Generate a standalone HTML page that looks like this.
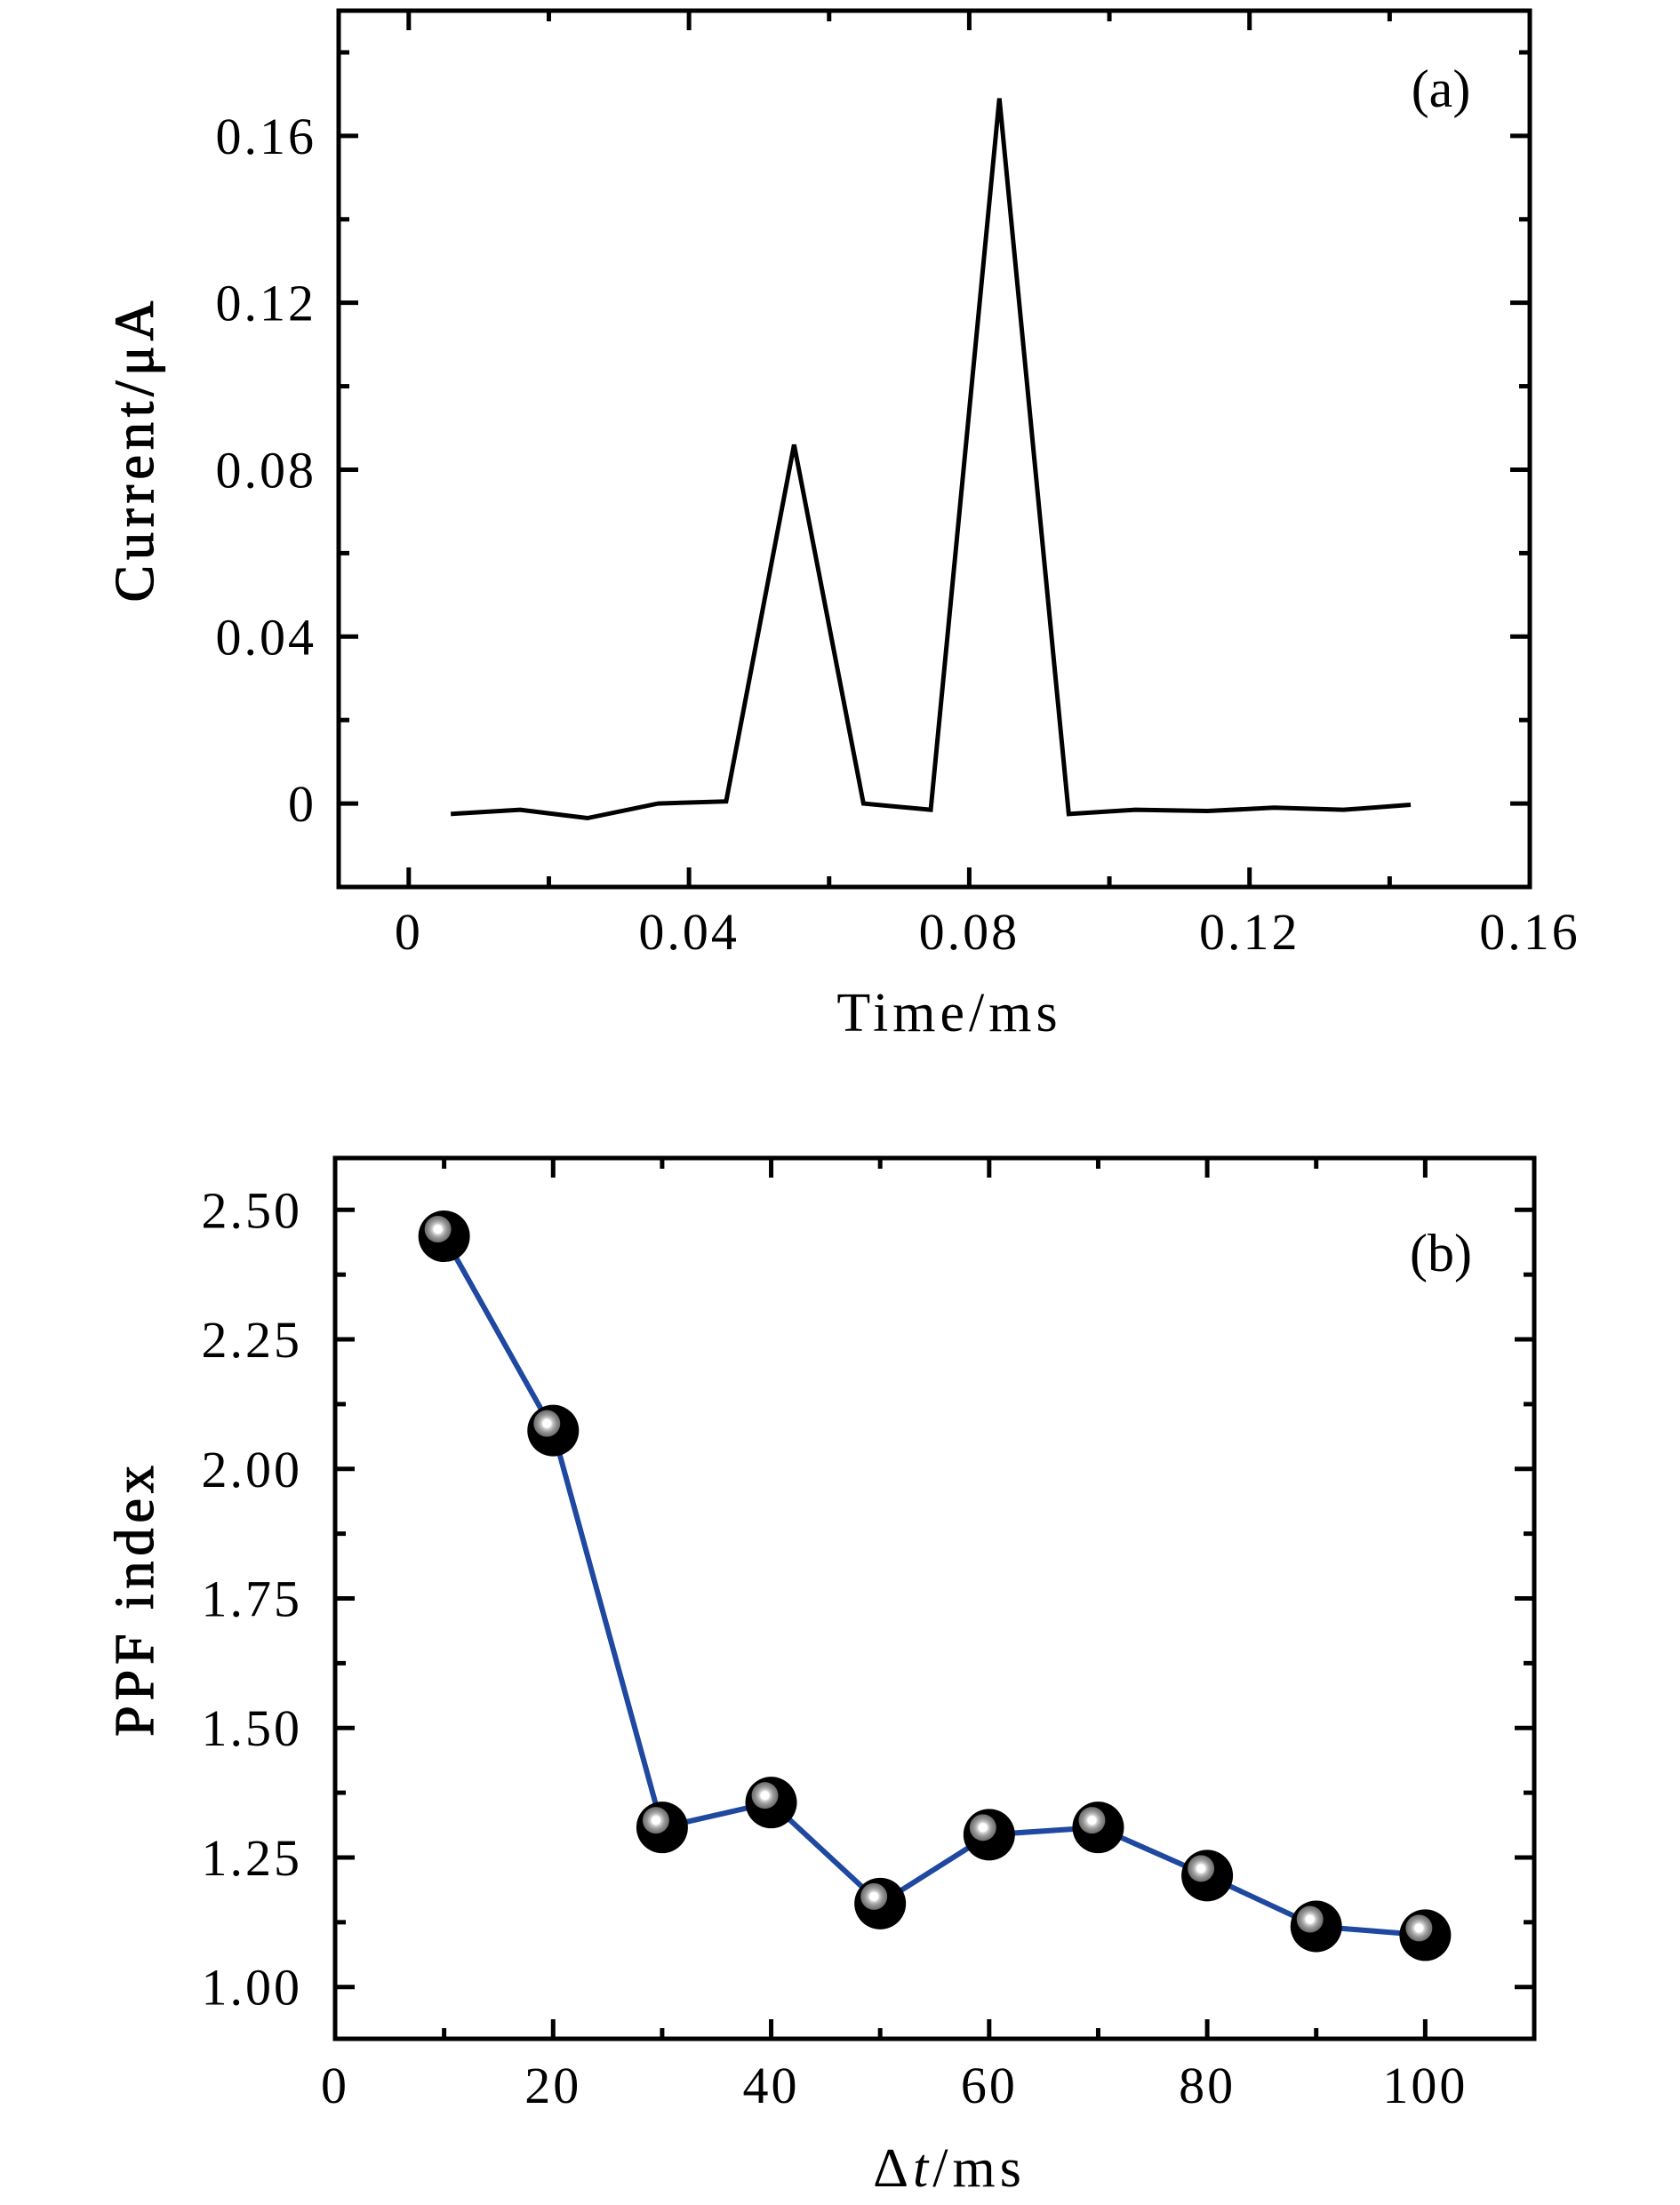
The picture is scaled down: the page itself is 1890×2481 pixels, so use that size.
<!DOCTYPE html>
<html><head><meta charset="utf-8">
<style>
html,body{margin:0;padding:0;background:#fff;}
svg{display:block;}
text{font-family:"Liberation Serif",serif;fill:#000;}
</style></head>
<body>
<svg id="chart" width="1890" height="2481" viewBox="0 0 1890 2481" xmlns="http://www.w3.org/2000/svg">
<defs>
<radialGradient id="ball" cx="0.5" cy="0.5" r="0.5">
<stop offset="0" stop-color="#fff"/><stop offset="0.3" stop-color="#fff"/>
<stop offset="0.42" stop-color="#ccc"/><stop offset="0.65" stop-color="#999"/>
<stop offset="1" stop-color="#6a6a6a"/>
</radialGradient>
</defs>
</svg>
<script>
// Panel (a) data
const timeA = [0.0060,0.0159,0.0255,0.0356,0.0453,0.0550,0.0649,0.0745,0.0843,0.0942,0.1037,0.1140,0.1235,0.1334,0.1430];
const currentA = [-0.0025,-0.0015,-0.0035,0.0000,0.0005,0.0860,0.0000,-0.0015,0.1690,-0.0025,-0.0015,-0.0018,-0.0010,-0.0015,-0.0003];
const xTicksA = [0,0.04,0.08,0.12,0.16];
const xTickLabelsA = ["0","0.04","0.08","0.12","0.16"];
const yTicksA = [0,0.04,0.08,0.12,0.16];
const yTickLabelsA = ["0","0.04","0.08","0.12","0.16"];
// Panel (b) data
const dtB = [10,20,30,40,50,60,70,80,90,100];
const ppfB = [2.449,2.074,1.308,1.356,1.161,1.294,1.308,1.215,1.117,1.100];
const xTicksB = [0,20,40,60,80,100];
const xTickLabelsB = ["0","20","40","60","80","100"];
const yTicksB = [1.00,1.25,1.50,1.75,2.00,2.25,2.50];
const yTickLabelsB = ["1.00","1.25","1.50","1.75","2.00","2.25","2.50"];

const NS="http://www.w3.org/2000/svg";
const svg=document.getElementById('chart');
function mk(tag,attrs,parent){const e=document.createElementNS(NS,tag);for(const k in attrs)e.setAttribute(k,attrs[k]);(parent||svg).appendChild(e);return e;}

function panel(o){
  const g=mk('g',{});
  
  
  const sx=v=>o.L+(v-o.x0)/(o.x1-o.x0)*(o.R-o.L);
  const sy=v=>o.B-(v-o.y0)/(o.y1-o.y0)*(o.B-o.T);
  for(let v=o.xMinStart; v<=o.x1+1e-9; v+=o.xMinStep){
    const major=o.xTicks.some(t=>Math.abs(t-v)<1e-9);
    const len=major?22:12, x=sx(v);
    if(x<o.L+3||x>o.R-3) continue;
    const t1=mk('line',{x1:x,y1:o.B,x2:x,y2:o.B-len,stroke:'#000','stroke-width':5},g);
    
    
    mk('line',{x1:x,y1:o.T,x2:x,y2:o.T+len,stroke:'#000','stroke-width':5},g);
  }
  for(let v=o.yMinStart; v<=o.y1+1e-9; v+=o.yMinStep){
    const major=o.yTicks.some(t=>Math.abs(t-v)<1e-9);
    const len=major?22:12, y=sy(v);
    if(y<o.T+3||y>o.B-3) continue;
    const t1=mk('line',{x1:o.L,y1:y,x2:o.L+len,y2:y,stroke:'#000','stroke-width':5},g);
    
    
    mk('line',{x1:o.R,y1:y,x2:o.R-len,y2:y,stroke:'#000','stroke-width':5},g);
  }
  const fr=mk('rect',{x:o.L,y:o.T,width:o.R-o.L,height:o.B-o.T,fill:'none',stroke:'#000','stroke-width':5},g);
  
  
  o.xTicks.forEach((v,i)=>{
    const t=mk('text',{x:sx(v),y:o.xLabY,'font-size':58,'text-anchor':'middle','letter-spacing':3},g);
    t.textContent=o.xLabels[i];
    
    
  });
  o.yTicks.forEach((v,i)=>{
    const t=mk('text',{x:o.yLabX,y:sy(v)+20,'font-size':58,'text-anchor':'end','letter-spacing':3},g);
    t.textContent=o.yLabels[i];
    
    
  });
  const xt=mk('text',{x:1068,y:o.xTitleY,'font-size':62,'text-anchor':'middle','letter-spacing':5},g);
  xt.innerHTML=o.xTitle;
  
  
  const cy=(o.T+o.B)/2;
  const yt=mk('text',{x:0,y:0,'font-size':62,'text-anchor':'middle','letter-spacing':6,'stroke':'#000','stroke-width':1.2,transform:`translate(172,${cy}) rotate(-90)`},g);
  yt.textContent=o.yTitle;
  
  
  const pl=mk('text',{x:1621,y:o.panelLabY,'font-size':60,'text-anchor':'middle'},g);
  pl.textContent=o.panelLab;
  
  
  const pts=o.xs.map((v,i)=>sx(v)+','+sy(o.ys[i])).join(' ');
  const line=mk('polyline',{points:pts,fill:'none',stroke:o.color,'stroke-width':o.lw,'stroke-linejoin':'miter'},g);
  
  
  if(o.markers){
    o.xs.forEach((v,i)=>{
      const x=sx(v), y=sy(o.ys[i]);
      const c=mk('circle',{cx:x,cy:y,r:29,fill:'#000'},g);
      
      
      mk('circle',{cx:x-7,cy:y-8,r:15,fill:'url(#ball)'},g);
    });
  }
}

panel({name:'panel-a',L:381,R:1721,T:12,B:998,x0:-0.01,x1:0.16,y0:-0.02,y1:0.19,
  xTicks:xTicksA,xLabels:xTickLabelsA,yTicks:yTicksA,yLabels:yTickLabelsA,
  xMinStart:0,xMinStep:0.02,yMinStart:-0.02,yMinStep:0.02,
  xLabY:1068,yLabX:356,xTitleY:1160,xTitle:'Time/ms',yTitle:'Current/μA',
  panelLab:'(a)',panelLabY:120,xs:timeA,ys:currentA,color:'#000',lw:5,markers:false});

panel({name:'panel-b',L:377,R:1726,T:1303,B:2294,x0:0,x1:110,y0:0.9,y1:2.6,
  xTicks:xTicksB,xLabels:xTickLabelsB,yTicks:yTicksB,yLabels:yTickLabelsB,
  xMinStart:0,xMinStep:10,yMinStart:1.0,yMinStep:0.125,
  xLabY:2366,yLabX:340,xTitleY:2460,xTitle:'Δ<tspan font-style="italic">t</tspan>/ms',yTitle:'PPF index',
  panelLab:'(b)',panelLabY:1430,xs:dtB,ys:ppfB,color:'#1f48a0',lw:6,markers:true});
</script>
</body></html>
